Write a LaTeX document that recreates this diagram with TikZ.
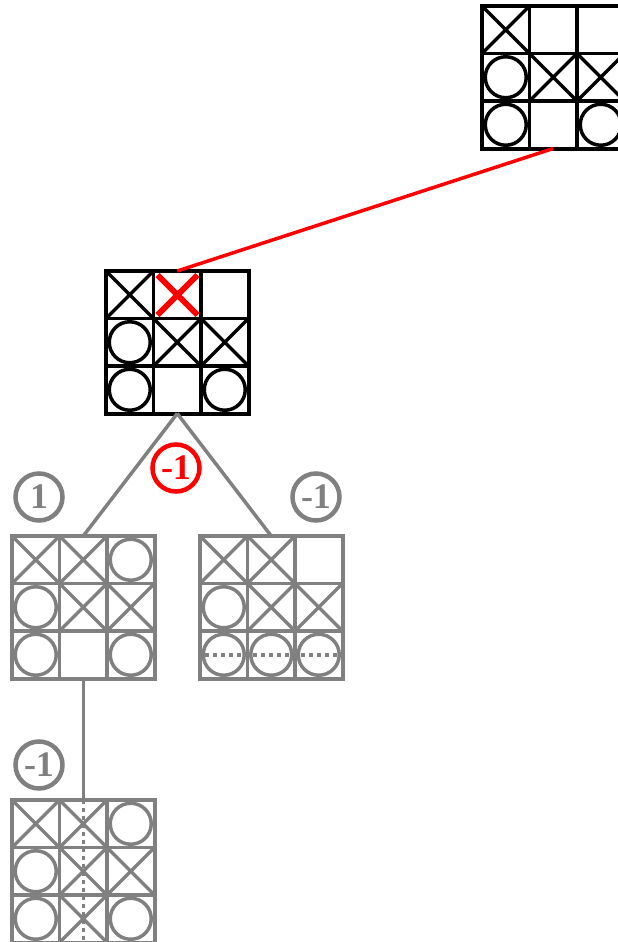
\documentclass[tikz,border=0pt]{standalone}
\usepackage{fontspec}
\newfontfamily\valfont{Liberation Serif}
\usetikzlibrary{calc}
\usetikzlibrary{positioning}
\tikzstyle{brd}=[draw,rectangle,minimum width=142.5pt,minimum height=142.5pt,inner sep=0pt,outer sep=0pt,line width=4pt]
\tikzstyle{val}=[draw,circle,line width=4.5pt,minimum size=47pt,inner sep=0pt,font={\valfont\bfseries\fontsize{36}{36}\selectfont}]
\tikzstyle{dots}=[line width=3.5pt,dash pattern=on 4pt off 4pt]
% board: name, centre
\newcommand{\board}[2]{%
  \node[brd] (#1) at #2 {};
  \foreach \k in {1,2}{
    \draw ($(#1.north west)+(\k*47.5,0)$) -- +(0,142.5);
    \draw ($(#1.north west)+(0,\k*47.5)$) -- +(142.5,0);}}
% cross and ring: board, column, row
\newcommand{\xc}[3]{\draw ($(#1.north west)+(#2*47.5,#3*47.5)$) -- +(47.5,47.5)
  ($(#1.north west)+(#2*47.5+47.5,#3*47.5)$) -- +(-47.5,47.5);}
\newcommand{\oc}[3]{\draw ($(#1.north west)+(#2*47.5+23.75,#3*47.5+23.75)$) circle (20.5pt);}

\begin{document}
\begin{tikzpicture}[x=1pt,y=-1pt,line width=3.5pt]
\useasboundingbox (0,0) rectangle (618,942);

\board{A}{(553.25,77.25)}
\foreach \c/\r in {0/0,1/1,2/1}{\xc{A}{\c}{\r}}
\foreach \c/\r in {0/1,0/2,2/2}{\oc{A}{\c}{\r}}

\board{B}{(177.25,342.25)}
\foreach \c/\r in {0/0,1/1,2/1}{\xc{B}{\c}{\r}}
\foreach \c/\r in {0/1,0/2,2/2}{\oc{B}{\c}{\r}}
\draw[red,line width=6pt] ($(B.north west)+(51.5,4)$) -- +(40,40)
  ($(B.north west)+(91.5,4)$) -- +(-40,40);

\draw[red] (A.south) -- (B.north);

\begin{scope}[gray]
\board{C}{(83.25,607.25)}
\foreach \c/\r in {0/0,1/0,1/1,2/1}{\xc{C}{\c}{\r}}
\foreach \c/\r in {2/0,0/1,0/2,2/2}{\oc{C}{\c}{\r}}

\board{D}{(271.25,607.25)}
\foreach \c/\r in {0/0,1/0,1/1,2/1}{\xc{D}{\c}{\r}}
\foreach \c/\r in {0/1,0/2,1/2,2/2}{\oc{D}{\c}{\r}}
\draw[dots] ($(D.south west)+(5,-23.75)$) -- ($(D.south east)+(-5,-23.75)$);

\board{E}{(83.25,871.25)}
\foreach \c/\r in {0/0,1/0,1/1,2/1,1/2}{\xc{E}{\c}{\r}}
\foreach \c/\r in {2/0,0/1,0/2,2/2}{\oc{E}{\c}{\r}}
\draw[dots] (E.north) -- (E.south);

\draw (B.south) -- (C.north);
\draw (B.south) -- (D.north);
\draw (C.south) -- (E.north);

\node[val] (vC) at (39,497) {1};
\node[val] (vD) at (316,497) {-1};
\node[val] (vE) at (39,765) {-1};
\end{scope}
\node[val,red] (vB) at (176,468) {-1};
\end{tikzpicture}
\end{document}
